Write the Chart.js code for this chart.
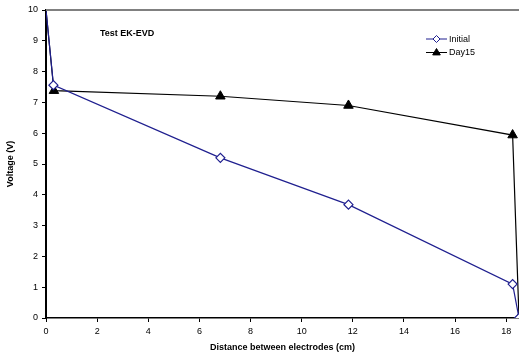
<!DOCTYPE html>
<html>
<head>
<meta charset="utf-8">
<script src="https://cdn.jsdelivr.net/npm/chart.js@4.4.0/dist/chart.umd.min.js"></script>
<style>
  html, body { margin: 0; padding: 0; background: #fff; }
  #wrap { width: 519px; height: 356px; position: relative; }
</style>
</head>
<body>
<div id="wrap"><canvas id="c" width="519" height="356"></canvas></div>
<script>
// ---- Data ----
const chartTitle = 'Test EK-EVD';
const xTitle = 'Distance between electrodes (cm)';
const yTitle = 'Voltage (V)';
const seriesNames = ['Initial', 'Day15'];
const distInitial = [0, 0.29, 6.82, 11.83, 18.25, 18.5];
const voltInitial = [10, 7.56, 5.2, 3.68, 1.1, 0];
const distDay15 = [0, 0.31, 6.82, 11.83, 18.25, 18.5];
const voltDay15 = [10, 7.38, 7.2, 6.9, 5.94, 0];
const xTicks = [0, 2, 4, 6, 8, 10, 12, 14, 16, 18];
const yTicks = [0, 1, 2, 3, 4, 5, 6, 7, 8, 9, 10];

const toPoints = (xs, ys) => xs.map((x, i) => ({ x: x, y: ys[i] }));

const FONT = "'Liberation Sans', Arial, sans-serif";

function drawMarker(ctx, style, x, y, r) {
  if (style === 'rectRot') {
    ctx.moveTo(x, y - r);
    ctx.lineTo(x + r, y);
    ctx.lineTo(x, y + r);
    ctx.lineTo(x - r, y);
    ctx.closePath();
  } else {
    ctx.moveTo(x, y - r);
    ctx.lineTo(x + r * 0.95, y + r * 0.6);
    ctx.lineTo(x - r * 0.95, y + r * 0.6);
    ctx.closePath();
  }
}

const overlayPlugin = {
  id: 'overlay',
  afterDraw(chart) {
    const ctx = chart.ctx;
    const a = chart.chartArea;
    ctx.save();
    // top border of plot area
    ctx.strokeStyle = '#808080';
    ctx.lineWidth = 2;
    ctx.beginPath();
    ctx.moveTo(a.left, a.top);
    ctx.lineTo(a.right, a.top);
    ctx.stroke();
    // title inside plot
    ctx.fillStyle = '#000';
    ctx.font = 'bold 9px ' + FONT;
    ctx.textBaseline = 'middle';
    ctx.textAlign = 'left';
    ctx.fillText(chartTitle, 100, 34);
    // legend
    const items = chart.data.datasets;
    const lx0 = 426, lx1 = 447, ly = [39, 52.5];
    items.forEach((ds, i) => {
      ctx.strokeStyle = ds.borderColor;
      ctx.lineWidth = 1;
      ctx.beginPath();
      ctx.moveTo(lx0, ly[i]);
      ctx.lineTo(lx1, ly[i]);
      ctx.stroke();
      ctx.fillStyle = ds.pointBackgroundColor;
      ctx.strokeStyle = ds.pointBorderColor;
      ctx.lineWidth = 1;
      ctx.beginPath();
      drawMarker(ctx, ds.pointStyle, (lx0 + lx1) / 2, ly[i], ds.legendRadius);
      ctx.fill();
      ctx.stroke();
      ctx.fillStyle = '#000';
      ctx.font = '9px ' + FONT;
      ctx.textAlign = 'left';
      ctx.fillText(ds.label, 449, ly[i] + 0.5);
    });
    ctx.restore();
  }
};

new Chart(document.getElementById('c'), {
  type: 'scatter',
  data: {
    datasets: [
      {
        label: seriesNames[0],
        data: toPoints(distInitial, voltInitial),
        showLine: true,
        borderColor: '#1f1f8f',
        borderWidth: 1.2,
        pointStyle: 'rectRot',
        pointRadius: (c) => (c.dataIndex === 0 ? 0 : 4.5),
        pointBackgroundColor: '#ffffff',
        pointBorderColor: '#1f1f8f',
        pointBorderWidth: 1.2,
        legendRadius: 3.5,
        order: 1
      },
      {
        label: seriesNames[1],
        data: toPoints(distDay15, voltDay15),
        showLine: true,
        borderColor: '#000000',
        borderWidth: 1.2,
        pointStyle: 'triangle',
        pointRadius: (c) => (c.dataIndex === 0 ? 0 : 5.5),
        pointBackgroundColor: '#000000',
        pointBorderColor: '#000000',
        pointBorderWidth: 1,
        legendRadius: 4,
        order: 2
      }
    ]
  },
  options: {
    responsive: false,
    animation: false,
    devicePixelRatio: 1,
    layout: { autoPadding: false, padding: { top: 10, right: 0, left: 0, bottom: 0 } },
    plugins: {
      legend: { display: false },
      tooltip: { enabled: false },
      title: { display: false }
    },
    scales: {
      x: {
        type: 'linear',
        min: 0,
        max: 18.5,
        afterBuildTicks: (s) => { s.ticks = xTicks.map(v => ({ value: v })); },
        afterFit: (s) => { s.height = 38; s.paddingRight = 0; s.paddingLeft = 0; },
        ticks: {
          color: '#000',
          font: { family: FONT, size: 9 },
          padding: 4,
          maxRotation: 0,
          autoSkip: false
        },
        grid: { drawOnChartArea: false, drawTicks: true, tickLength: 4, color: '#000', lineWidth: 1 },
        border: { color: '#000', width: 1.5 },
        title: {
          display: true,
          text: xTitle,
          color: '#000',
          font: { family: FONT, size: 9, weight: 'bold' },
          padding: { top: 0, bottom: 3 }
        }
      },
      y: {
        type: 'linear',
        min: 0,
        max: 10,
        afterBuildTicks: (s) => { s.ticks = yTicks.map(v => ({ value: v })); },
        afterFit: (s) => { s.width = 46; s.paddingTop = 0; s.paddingBottom = 0; },
        ticks: {
          color: '#000',
          font: { family: FONT, size: 9 },
          padding: 4,
          autoSkip: false
        },
        grid: { drawOnChartArea: false, drawTicks: true, tickLength: 4, color: '#000', lineWidth: 1 },
        border: { color: '#000', width: 2 },
        title: {
          display: true,
          text: yTitle,
          color: '#000',
          font: { family: FONT, size: 9, weight: 'bold' },
          padding: { top: 5, bottom: 0 }
        }
      }
    }
  },
  plugins: [overlayPlugin]
});
</script>
</body>
</html>
